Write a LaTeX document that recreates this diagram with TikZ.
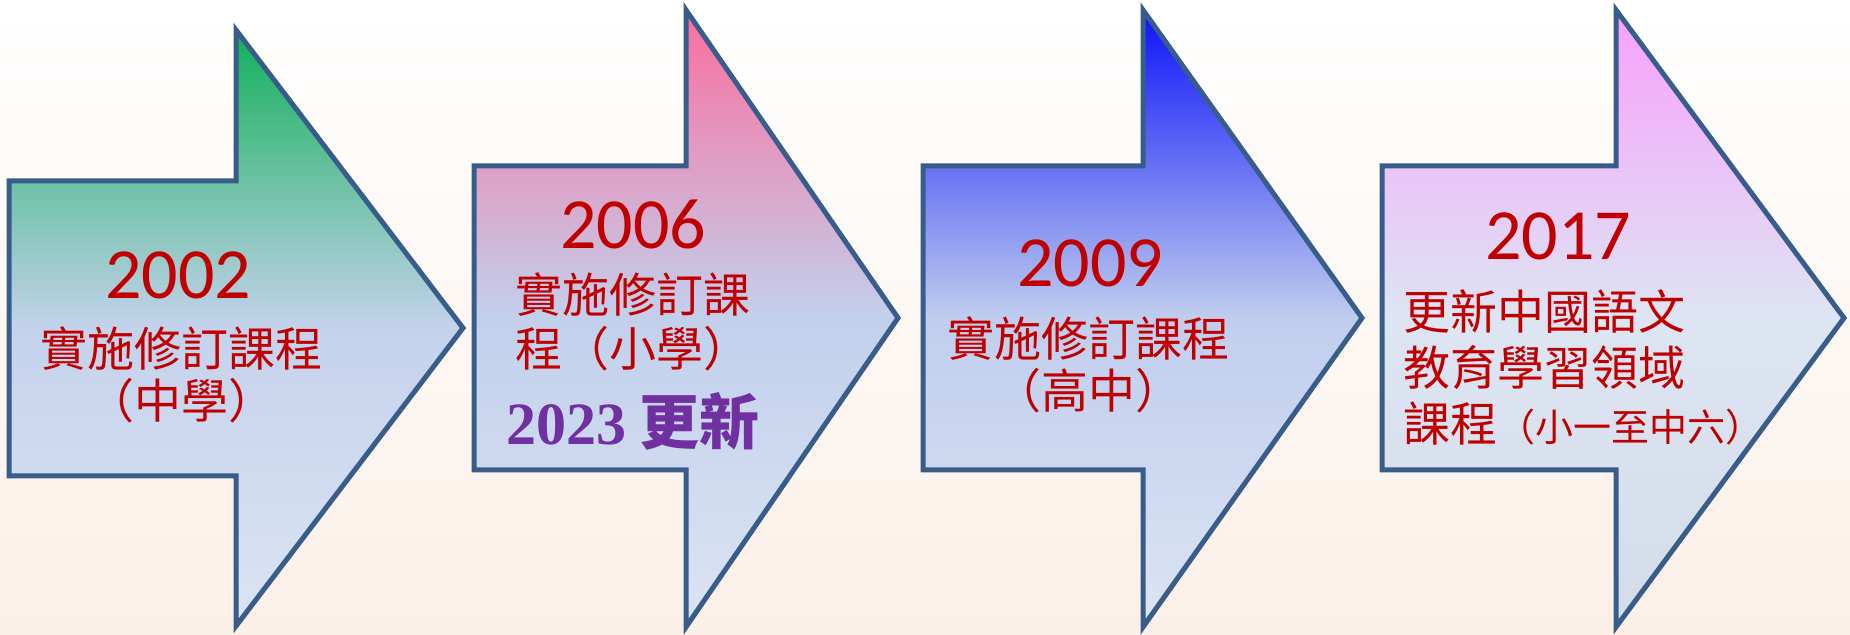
\documentclass[tikz,border=0pt]{standalone}
\usepackage{fontspec}
\setmainfont{Carlito}
\newfontfamily\cjk{Noto Sans CJK TC}
\newfontfamily\tnr{Liberation Serif}
\usetikzlibrary{positioning}
\definecolor{edge}{HTML}{385D8A}
\definecolor{yearred}{HTML}{C00000}
\definecolor{upd}{HTML}{7030A0}
\definecolor{bgpeach}{HTML}{FBF0E8}
\definecolor{low}{HTML}{DCE4F3}
\definecolor{green1}{HTML}{12B05A}
\definecolor{mid1}{HTML}{C4D2EC}
\definecolor{pink2}{HTML}{FA6E9E}
\definecolor{mid2}{HTML}{C2D0EC}
\definecolor{blue3}{HTML}{0C12FA}
\definecolor{mid3}{HTML}{C0CEEE}
\definecolor{violet4}{HTML}{F8A0FB}
\definecolor{mid4}{HTML}{DDE5F3}
\definecolor{low4}{HTML}{D4DCE8}
\tikzset{
  shaft/.style={draw=edge,line width=2.5pt,line join=miter},
  year/.style={text=yearred,inner sep=0pt,font=\fontsize{36}{40}\selectfont},
  note/.style={text=yearred,inner sep=0pt,align=center,font=\fontsize{23.5}{26}\selectfont\cjk},
}
\begin{document}
\begin{tikzpicture}[x=0.5pt,y=0.5pt]
\fill[top color=white,bottom color=bgpeach](0,0)rectangle(1850,635);
\useasboundingbox(0,0)rectangle(1850,635);
\draw[shaft,top color=green1,bottom color=low,middle color=mid1]
(9,454)--(236,454)--(236,605)--(463,307)--(236,9)--(236,159)--(9,159)--cycle;
\draw[shaft,top color=pink2,bottom color=low,middle color=mid2]
(474,469)--(686,469)--(686,625)--(898,317)--(686,8)--(686,165)--(474,165)--cycle;
\draw[shaft,top color=blue3,bottom color=low,middle color=mid3]
(923,469)--(1143,469)--(1143,625)--(1362,317)--(1143,8)--(1143,165)--(923,165)--cycle;
\draw[shaft,top color=violet4,bottom color=low4,middle color=mid4]
(1382,469)--(1616,469)--(1616,625)--(1844,317)--(1616,8)--(1616,165)--(1382,165)--cycle;
\node[year](y02)at(178,360){2002};
\node[note](n02)at(181,260){實施修訂課程\\（中學）};
\node[year](y06)at(633,411){2006};
\node[note,font=\fontsize{23.5}{27}\selectfont\cjk](n06)at(633,313){實施修訂課\\程（小學）};
\node[text=upd,inner sep=0pt,font=\fontsize{30}{34}\selectfont\bfseries](u23)at(633,214){{\tnr 2023} {\cjk 更新}};
\node[year](y09)at(1090,372){2009};
\node[note](n09)at(1088,270){實施修訂課程\\（高中）};
\node[year](y17)at(1558,399){2017};
\node[note,align=left,anchor=west,font=\fontsize{23.5}{28}\selectfont\cjk](n17)at(1403,268)
{更新中國語文\\教育學習領域\\課程{\fontsize{19}{28}\selectfont（小一至中六）}};
\end{tikzpicture}
\end{document}
